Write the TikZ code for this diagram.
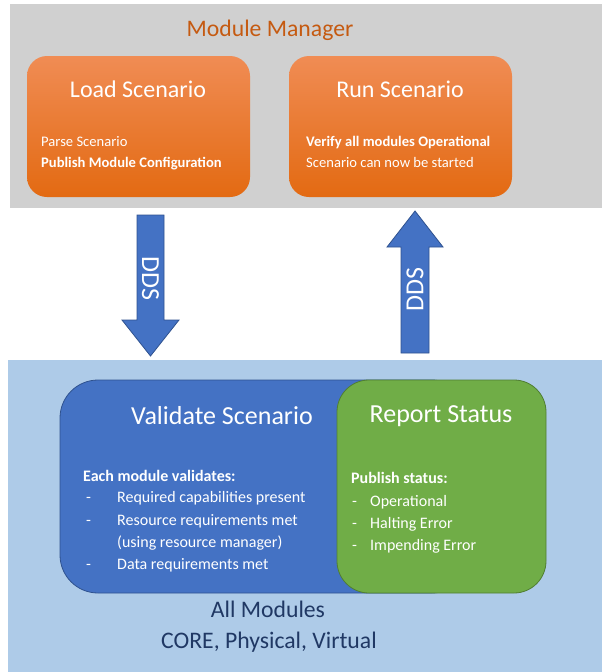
\documentclass[tikz,border=0pt]{standalone}
\usepackage{fontspec}
\setmainfont{Carlito}
\begin{document}
\begin{tikzpicture}[x=1pt,y=-1pt,
  orangebox/.style={rounded corners=20pt, top color=orTop, bottom color=orBot},
  titletxt/.style={text=white, font=\fontsize{24}{28}\selectfont, inner sep=0pt},
  bigtitle/.style={text=white, font=\fontsize{26}{30}\selectfont, inner sep=0pt},
  bodytxt/.style={text=white, font=\fontsize{14.6}{17}\selectfont, inner sep=0pt, anchor=west, text height=10.5pt, text depth=3pt},
  lowtxt/.style={text=white, font=\fontsize{16}{19}\selectfont, inner sep=0pt, anchor=west, text height=11.5pt, text depth=3.5pt},
  ddsarrow/.style={fill=arrBlue, draw=arrEdge, line width=0.8pt},
  ddstxt/.style={text=white, font=\fontsize{26}{30}\selectfont, inner sep=0pt},
  bandtxt/.style={text=navy, font=\fontsize{23.7}{28}\selectfont, inner sep=0pt}
]
\definecolor{bandGray}{HTML}{D0D0D0}
\definecolor{bandBlue}{HTML}{AECBE8}
\definecolor{orTop}{HTML}{F08C54}
\definecolor{orBot}{HTML}{E36A12}
\definecolor{mmOrange}{HTML}{C55A11}
\definecolor{arrBlue}{HTML}{4472C4}
\definecolor{arrEdge}{HTML}{2F528F}
\definecolor{grn}{HTML}{70AD47}
\definecolor{grnEdge}{HTML}{507E32}
\definecolor{navy}{HTML}{203864}
\useasboundingbox (0,0) rectangle (602,672);
\fill[white] (0,0) rectangle (602,672);
% bands
\fill[bandGray] (10,4) rectangle (602,208);
\fill[bandBlue] (8,360) rectangle (602,672);
% top
\node[text=mmOrange, font=\fontsize{23.7}{28}\selectfont, inner sep=0pt] (mm) at (270,30) {Module Manager};
\path[orangebox] (27,56) rectangle (250,197);
\path[orangebox] (289,56) rectangle (512,197);
\node[titletxt] (load) at (138,89) {Load Scenario};
\node[titletxt] (run) at (400,89) {Run Scenario};
\node[bodytxt] (ps) at (41,143) {Parse Scenario};
\node[bodytxt] (pmc) at (41,164) {\bfseries Publish Module Configuration};
\node[bodytxt] (vam) at (306,143) {\bfseries Verify all modules Operational};
\node[bodytxt] (scs) at (306,164) {Scenario can now be started};
% arrows
\draw[ddsarrow] (137,215) -- (164,215) -- (164,320) -- (179,320) -- (150.5,356) -- (122,320) -- (137,320) -- cycle;
\node[ddstxt, rotate=-90] (dds1) at (150.5,278) {DDS};
\draw[ddsarrow] (401,353) -- (429,353) -- (429,247) -- (443,247) -- (415,211) -- (387,247) -- (401,247) -- cycle;
\node[ddstxt, rotate=90] (dds2) at (415,290) {DDS};
% bottom boxes
\draw[fill=arrBlue, draw=arrEdge, line width=0.8pt, rounded corners=38pt] (60,380) rectangle (470,593);
\draw[fill=grn, draw=grnEdge, line width=0.8pt, rounded corners=32pt] (337,380) rectangle (546,593);
\node[bigtitle] (val) at (222,416) {Validate Scenario};
\node[bigtitle] (rep) at (441,416) {Report Status};
\node[lowtxt] (emv) at (83,477) {\bfseries Each module validates:};
\node[lowtxt] (d1) at (86,498) {-};
\node[lowtxt] (v1) at (117,498) {Required capabilities present};
\node[lowtxt] (d2) at (86,521) {-};
\node[lowtxt] (v2) at (117,521) {Resource requirements met};
\node[lowtxt] (v3) at (117,543) {(using resource manager)};
\node[lowtxt] (d4) at (86,565) {-};
\node[lowtxt] (v4) at (117,565) {Data requirements met};
\node[lowtxt] (pst) at (351,479) {\bfseries Publish status:};
\node[lowtxt] (e1) at (352,502) {-};
\node[lowtxt] (s1) at (370,502) {Operational};
\node[lowtxt] (e2) at (352,524) {-};
\node[lowtxt] (s2) at (370,524) {Halting Error};
\node[lowtxt] (e3) at (352,546) {-};
\node[lowtxt] (s3) at (370,546) {Impending Error};
\node[bandtxt] (am) at (268,609) {All Modules};
\node[bandtxt] (cpv) at (269,642) {CORE, Physical, Virtual};
\end{tikzpicture}
\end{document}
